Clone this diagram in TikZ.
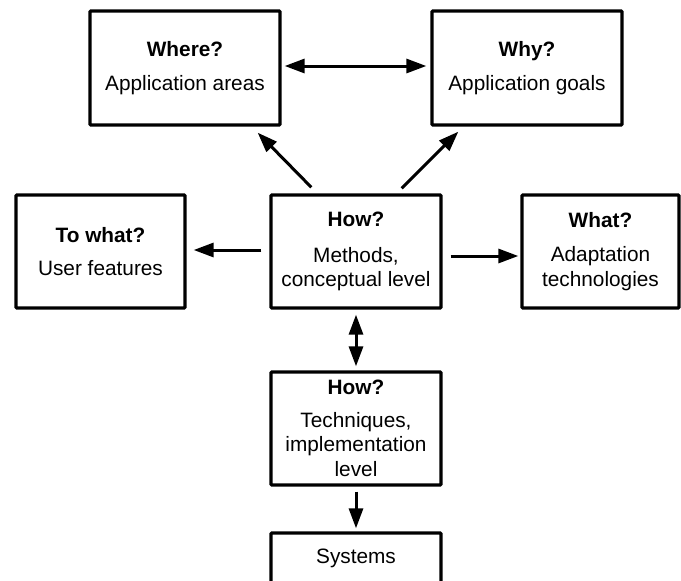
\documentclass[tikz,border=0pt]{standalone}
\usepackage{fontspec}
\setmainfont{Liberation Sans}
\usetikzlibrary{arrows.meta}
\begin{document}
\begin{tikzpicture}[x=1pt,y=1pt,
  box/.style={draw=black,line width=3.3pt,rounded corners=1pt,inner sep=0pt,
    align=center,font=\fontsize{20.8}{24.6}\selectfont},
  link/.style={line width=3pt,-{Triangle[length=20pt,width=14pt]}},
  biglink/.style={line width=3pt,{Triangle[length=20pt,width=14pt]}-{Triangle[length=20pt,width=14pt]}}]
\useasboundingbox (0,0) rectangle (681,-581);
\clip (0,0) rectangle (681,-581);
% top row
\node[box,minimum width=190pt,minimum height=114pt] (where) at (185,-68)
  {\textbf{Where?}\\[9pt]Application areas};
\node[box,minimum width=190pt,minimum height=114pt] (why) at (527,-68)
  {\textbf{Why?}\\[9pt]Application goals};
% middle row
\node[box,minimum width=169pt,minimum height=113pt] (towhat) at (100.5,-251.5)
  {\textbf{To what?}\\[9pt]User features};
\node[box,minimum width=170pt,minimum height=113pt] (how) at (356,-251.5)
  {\textbf{How?}\\[11pt]Methods,\\conceptual level};
\node[box,minimum width=157pt,minimum height=113pt] (what) at (600.5,-251.5)
  {\textbf{What?}\\[10pt]Adaptation\\technologies};
% lower column
\node[box,minimum width=170pt,minimum height=113pt] (tech) at (356,-428.5)
  {\textbf{How?}\\[8pt]Techniques,\\implementation\\level};
\node[box,minimum width=170pt,minimum height=51pt] (sys) at (356,-558.5)
  {Systems};
% connectors
\draw[biglink,shorten <=3pt,shorten >=4pt] ([yshift=2pt]where.east) -- ([yshift=2pt]why.west);
\draw[link] ([shift={(42,6)}]how.north west) -- ([shift={(-24,-6)}]where.south east);
\draw[link] ([shift={(-41,5)}]how.north east) -- ([shift={(28,-5)}]why.south west);
\draw[link,shorten <=8pt,shorten >=7pt] ([yshift=1.5pt]how.west) -- ([yshift=1.5pt]towhat.east);
\draw[link,shorten <=8pt,shorten >=2pt] ([yshift=-4.5pt]how.east) -- ([yshift=-4.5pt]what.west);
\draw[biglink,shorten <=5pt,shorten >=4pt] (how.south) -- (tech.north);
\draw[link,shorten <=5pt,shorten >=3pt] (tech.south) -- (sys.north);
\end{tikzpicture}
\end{document}
